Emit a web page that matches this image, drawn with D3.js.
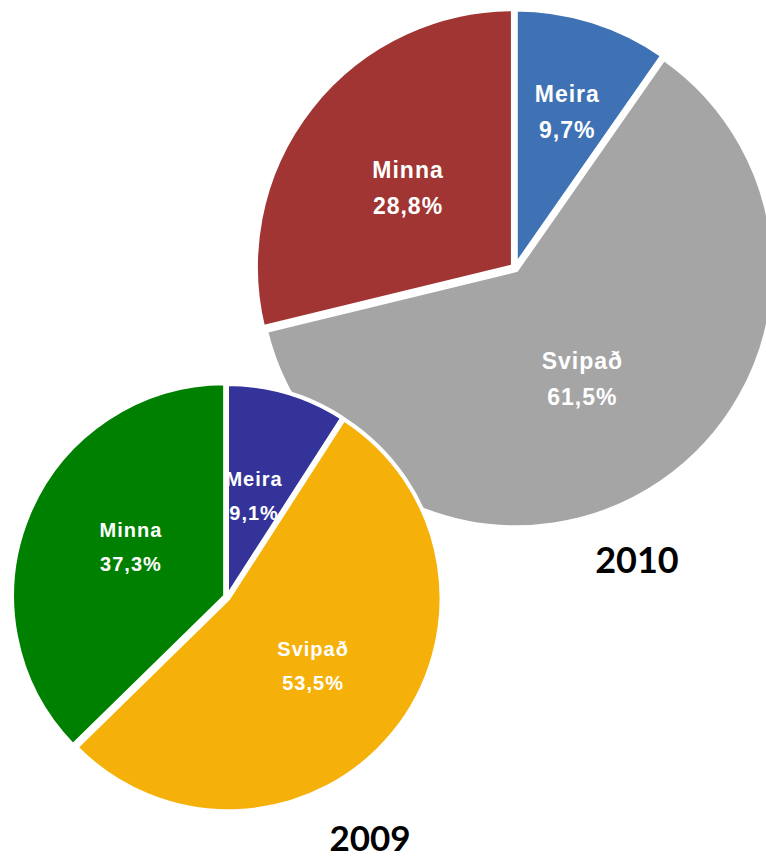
<!DOCTYPE html>
<html>
<head>
<meta charset="utf-8">
<script src="https://cdn.jsdelivr.net/npm/d3@7"></script>
<style>
  html, body { margin: 0; padding: 0; background: #fff; }
  svg { display: block; }
</style>
</head>
<body>
<svg id="chart" width="766" height="860"></svg>
<script>
// ---- data ----
const categories = ["Meira", "Svipað", "Minna"];
const values2010 = [9.7, 61.5, 28.8];
const values2009 = [9.1, 53.5, 37.3];
const labels2010 = ["9,7%", "61,5%", "28,8%"];
const labels2009 = ["9,1%", "53,5%", "37,3%"];
const years = ["2010", "2009"];

// ---- styling ----
const colors2010 = ["#3E72B4", "#A5A5A5", "#A13533"];
const colors2009 = ["#333399", "#F5B10A", "#008000"];

const svg = d3.select("#chart");

function drawPie(cfg) {
  const pie = d3.pie().sort(null).value(d => d.v);
  const arcs = pie(cfg.cats.map((c, i) => ({ c, v: cfg.values[i], lab: cfg.labels[i], i })));
  const arc = d3.arc().innerRadius(0).outerRadius(cfg.r);
  const g = svg.append("g").attr("transform", `translate(${cfg.cx},${cfg.cy})`);
  const slice = g.selectAll("g.slice").data(arcs).join("g")
    .attr("class", "slice")
    .attr("transform", d => {
      const a = (d.startAngle + d.endAngle) / 2;
      const o = cfg.explode[d.index];
      return `translate(${Math.sin(a) * o},${-Math.cos(a) * o})`;
    });
  slice.append("path")
    .attr("d", arc)
    .attr("fill", d => cfg.colors[d.index])
    .attr("stroke", "#fff")
    .attr("stroke-width", cfg.stroke)
    .attr("stroke-linejoin", "round");
  const t = slice.append("text")
    .attr("text-anchor", "middle")
    .attr("fill", "#fff")
    .attr("font-family", "'Liberation Sans', Arial, sans-serif")
    .attr("font-weight", "bold")
    .attr("font-size", cfg.fontSize)
    .attr("letter-spacing", cfg.spacing)
    .attr("transform", d => {
      const a = (d.startAngle + d.endAngle) / 2;
      const rr = cfg.r * cfg.labelR[d.index];
      return `translate(${Math.sin(a) * rr + cfg.labelDx[d.index]},${-Math.cos(a) * rr + cfg.labelDy[d.index]})`;
    });
  t.append("tspan").attr("x", 0).attr("dy", "-0.15em").text(d => d.data.c);
  t.append("tspan").attr("x", 0).attr("dy", cfg.lineH).text(d => d.data.lab);
}

// 2010 pie (behind)
drawPie({
  cats: categories, values: values2010, labels: labels2010, colors: colors2010,
  cx: 515, cy: 268, r: 258, stroke: 5,
  explode: [1, 2, 2],
  labelR: [0.62, 0.53, 0.5],
  labelDx: [4, -11, -4], labelDy: [-9, -10, -6],
  fontSize: 23, spacing: 1, lineH: 36
});

// 2009 pie (front)
drawPie({
  cats: categories, values: values2009, labels: labels2009, colors: colors2009,
  cx: 227, cy: 597, r: 213, stroke: 4,
  explode: [0, 2, 2],
  labelR: [0.5, 0.5, 0.5],
  labelDx: [-3, 2, 4], labelDy: [-6, -7, -15],
  fontSize: 20, spacing: 1, lineH: 34
});

// year labels
svg.append("text").attr("x", 637).attr("y", 573)
  .attr("text-anchor", "middle")
  .attr("font-family", "Lato, 'Open Sans', sans-serif")
  .attr("font-weight", "bold").attr("font-size", 36).attr("fill", "#000")
  .text(years[0]);
svg.append("text").attr("x", 370).attr("y", 851)
  .attr("text-anchor", "middle")
  .attr("font-family", "Lato, 'Open Sans', sans-serif")
  .attr("font-weight", "bold").attr("font-size", 35).attr("fill", "#000")
  .text(years[1]);
</script>
</body>
</html>
